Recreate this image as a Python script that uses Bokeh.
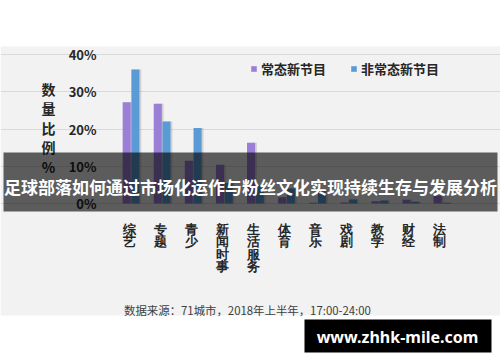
from bokeh.plotting import figure
from bokeh.models import (Label, BoxAnnotation, Legend, LegendItem, FixedTicker,
                          PrintfTickFormatter, ColumnDataSource, Range1d, LinearAxis, Grid)
from bokeh.transform import dodge
from bokeh.embed import file_html
from bokeh.resources import INLINE

# ---------------- data ----------------
categories = ["综艺", "专题", "青少", "新闻时事", "生活服务", "体育", "音乐", "戏剧", "教学", "财经", "法制"]
regular = [27.2, 26.8, 11.5, 10.4, 16.3, 1.7, 0.2, 0.3, 0.6, 1.0, 2.1]      # 常态新节目 (%)
special = [36.0, 22.0, 20.3, 5.5, 5.0, 4.0, 3.3, 1.1, 0.8, 0.5, 0.2]        # 非常态新节目 (%)
y_ticks = [0, 10, 20, 30, 40]
legend_labels = ["常态新节目", "非常态新节目"]
y_title = "数量比例%"
banner_text = "足球部落如何通过市场化运作与粉丝文化实现持续生存与发展分析"
source_note = "数据来源：71城市，2018年上半年，17:00-24:00"
watermark = "www.zhhk-mile.com"

# ---------------- style / layout ----------------
FONT = "Noto Sans CJK SC"
PURPLE = "#9b7fd6"
BLUE = "#5b9bd5"
TXT = "#262626"
W, H = 500, 362
PL, PT, PR, PB = 115, 54, 457, 203   # plotting area (pixels) of the chart
Y_MAX = 40

n = len(categories)
idx = list(range(n))
px_per_cat = (PR - PL) / n
px_per_unit = (PB - PT) / Y_MAX
x_range = Range1d(-0.5 - PL / px_per_cat, n - 0.5 + (W - PR) / px_per_cat)
y_range = Range1d(-(H - PB) / px_per_unit, Y_MAX + PT / px_per_unit)


def sx(px):          # pixel -> screen units (frame == whole canvas)
    return px


def sy(py):
    return H - py


def scr(**kw):
    d = {}
    for k in kw:
        d[k + "_units"] = "screen"
    d.update(kw)
    return d


src = ColumnDataSource(dict(i=idx, cat=categories, regular=regular, special=special,
                            lab=["\n".join(c) for c in categories]))

p = figure(x_range=x_range, y_range=y_range, width=W, height=H,
           min_border=0, x_axis_location=None, y_axis_location=None,
           output_backend="svg", toolbar_location=None)
p.border_fill_color = "white"
p.background_fill_color = "white"
p.outline_line_color = None
p.xgrid.visible = False
p.ygrid.visible = False

# light grey panel behind the chart
p.add_layout(BoxAnnotation(**scr(left=sx(0), right=sx(W), top=sy(46), bottom=sy(315)),
                           fill_color="#f2f2f2", fill_alpha=1, line_alpha=0, level="image"))

# horizontal grid lines
p.add_layout(Grid(dimension=1, ticker=FixedTicker(ticks=y_ticks), bounds=(-0.5, n - 0.5),
                  grid_line_color="#d9d9d9", grid_line_width=1))

# y axis
yax = LinearAxis(fixed_location=-0.5, ticker=FixedTicker(ticks=y_ticks),
                 formatter=PrintfTickFormatter(format="%d%%"),
                 axis_line_color=None, major_tick_line_color=None, minor_tick_line_color=None,
                 major_label_text_font=FONT, major_label_text_font_style="bold",
                 major_label_text_font_size="13px", major_label_text_color=TXT,
                 major_label_standoff=13)
p.add_layout(yax, "left")

# shadows
for col, off in (("regular", -0.14), ("special", 0.14)):
    p.vbar(x=dodge("i", off + 0.06, range=p.x_range), top=col, width=0.26, source=src,
           fill_color="black", fill_alpha=0.13, line_alpha=0)

r1 = p.vbar(x=dodge("i", -0.14, range=p.x_range), top="regular", width=0.26, source=src,
            fill_color=PURPLE, line_alpha=0)
r2 = p.vbar(x=dodge("i", 0.14, range=p.x_range), top="special", width=0.26, source=src,
            fill_color=BLUE, line_alpha=0)

# category labels (stacked vertically)
p.text(x="i", y=-19 / px_per_unit, text="lab", source=src, x_offset=-2,
       text_align="center", text_baseline="top",
       text_font=FONT, text_font_style="bold", text_font_size="12.5px",
       text_line_height=0.9, text_color=TXT)

# y-axis title, stacked vertically
p.add_layout(Label(**scr(x=sx(48), y=sy(127)),
                   text="\n".join(y_title[:4]) + "\n" + y_title[4:],
                   text_align="center", text_baseline="middle",
                   text_font=FONT, text_font_style="bold", text_font_size="14px",
                   text_line_height=0.975, text_color=TXT))

# legend
legend = Legend(items=[LegendItem(label=legend_labels[0], renderers=[r1]),
                       LegendItem(label=legend_labels[1], renderers=[r2])],
                orientation="horizontal", location=(sx(250), sy(78)),
                glyph_width=7, glyph_height=7, label_standoff=4, spacing=24,
                padding=0, margin=0, border_line_color=None, background_fill_alpha=0,
                label_text_font=FONT, label_text_font_style="bold",
                label_text_font_size="13px", label_text_color=TXT)
p.add_layout(legend)

# source note
p.add_layout(Label(**scr(x=sx(247), y=sy(309)),
                   text=source_note, text_align="center", text_baseline="middle",
                   text_font=FONT, text_font_size="11.4px", text_color="#404040"))

# dark banner with title
p.add_layout(BoxAnnotation(**scr(left=sx(3), right=sx(497), top=sy(152), bottom=sy(211)),
                           fill_color="black", fill_alpha=0.62, line_alpha=0,
                           level="overlay"))
p.add_layout(Label(**scr(x=sx(250), y=sy(186)),
                   text=banner_text, text_align="center", text_baseline="middle",
                   text_font=FONT, text_font_style="bold", text_font_size="17px",
                   text_color="white", level="overlay"))

# watermark
p.add_layout(BoxAnnotation(**scr(left=sx(304), right=sx(491), top=sy(319), bottom=sy(352)),
                           fill_color="black", fill_alpha=1, line_alpha=0,
                           level="overlay"))
p.add_layout(Label(**scr(x=sx(397), y=sy(336)),
                   text=watermark, text_align="center", text_baseline="middle",
                   text_font="Noto Sans", text_font_style="bold", text_font_size="16px",
                   text_color="white", level="overlay"))

open("out.html", "w").write(file_html(p, INLINE))
